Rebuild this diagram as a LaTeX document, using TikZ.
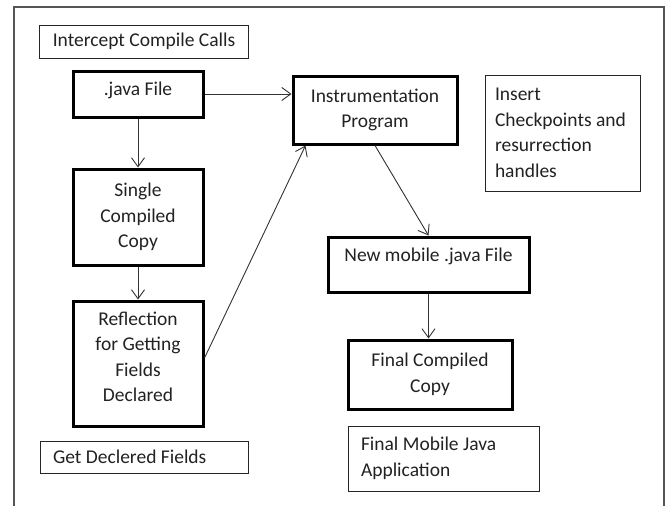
\documentclass[tikz,border=0pt]{standalone}
\usepackage{fontspec}
\setmainfont{Carlito}
\usetikzlibrary{arrows.meta}
\definecolor{frame}{HTML}{555555}
\definecolor{ink}{HTML}{222222}
\tikzset{
  every node/.style={font=\fontsize{19.5}{25.5}\selectfont, text=ink},
  thickbox/.style={draw=black, line width=3pt, fill=white, align=center, inner sep=2pt},
  thinbox/.style={draw=black!85, line width=1pt, fill=white, align=flush left, inner xsep=13pt},
  conn/.style={draw=black!80, line width=0.9pt, -{Straight Barb[length=9pt,width=13pt]}}
}
\begin{document}
\begin{tikzpicture}[x=1pt,y=-1pt]
\useasboundingbox (0,0) rectangle (666,506);
\fill[white] (0,0) rectangle (666,506);
\draw[frame, line width=2pt] (14,506) -- (14,7) -- (664,7) -- (664,506);

\node[thinbox, minimum width=208pt, minimum height=33pt] (intercept) at (144,41.5) {Intercept Compile Calls};
\node[thickbox, minimum width=130pt, minimum height=46pt, text depth=11pt] (java) at (138,94) {.java File};
\node[thickbox, minimum width=164pt, minimum height=68pt] (instr) at (375,110) {Instrumentation\\Program};
\node[thinbox, minimum width=155pt, minimum height=116pt, inner xsep=10pt, text width=135pt] (insert) at (562.5,133) {Insert\\Checkpoints and\\resurrection\\handles};
\node[thickbox, minimum width=130pt, minimum height=96pt] (single) at (138,217) {Single\\Compiled\\Copy};
\node[thickbox, minimum width=130pt, minimum height=125pt, text depth=13pt] (refl) at (138,363.5) {Reflection\\for Getting\\Fields\\Declared};
\node[thinbox, minimum width=208pt, minimum height=32pt, text width=182pt] (getf) at (144,457) {Get Declered Fields};
\node[thickbox, minimum width=201pt, minimum height=55pt, text depth=20pt] (newm) at (428.5,264.5) {New mobile .java File};
\node[thickbox, minimum width=164pt, minimum height=69pt] (final) at (430,374.5) {Final Compiled\\Copy};
\node[thinbox, minimum width=191pt, minimum height=65pt, text width=165pt] (app) at (443.5,458.5) {Final Mobile Java\\Application};

\draw[conn] (java.east) -- (java.east -| instr.west);
\draw[conn] (java.south) -- (single.north);
\draw[conn] (single.south) -- (refl.north);
\draw[conn] ([yshift=5.5pt]refl.east) -- ([xshift=14pt]instr.south west);
\draw[conn] (instr.south) -- (newm.north);
\draw[conn] (newm.south) -- (newm.south |- final.north);
\end{tikzpicture}
\end{document}
